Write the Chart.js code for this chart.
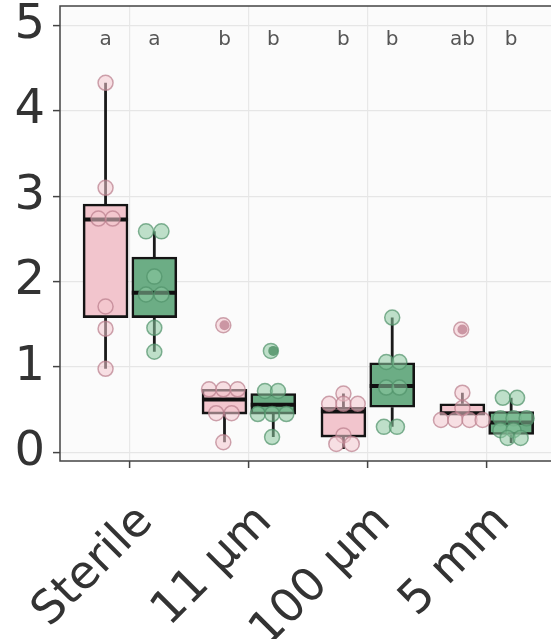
<!DOCTYPE html>
<html>
<head>
<meta charset="utf-8">
<script src="https://cdn.jsdelivr.net/npm/chart.js@4.4.1/dist/chart.umd.min.js"></script>
<style>
html,body{margin:0;padding:0;background:#fff}
</style>
</head>
<body>
<canvas id="grafico" width="551" height="639"></canvas>
<script>

/* DADOS */

const categorias = ["Sterile", "11 µm", "100 µm", "5 mm"]
const ticksY = [0, 0.5, 1, 1.5, 2, 2.5, 3, 3.5, 4, 4.5, 5]

const letrasRosa = ["a", "b", "b", "ab"]
const letrasVerde = ["a", "b", "b", "b"]

// caixas (q1, mediana, q3, bigodes)
const rosaQ1 = [1.58, 0.45, 0.18, 0.44]
const rosaMediana = [2.73, 0.62, 0.48, 0.46]
const rosaQ3 = [2.91, 0.74, 0.53, 0.57]
const rosaMin = [0.98, 0.12, 0.04, 0.44]
const rosaMax = [4.33, 0.74, 0.69, 0.70]
const rosaOutliers = [null, 1.49, null, 1.44]

const verdeQ1 = [1.58, 0.45, 0.53, 0.21]
const verdeMediana = [1.87, 0.56, 0.78, 0.35]
const verdeQ3 = [2.29, 0.69, 1.05, 0.48]
const verdeMin = [1.18, 0.18, 0.30, 0.11]
const verdeMax = [2.59, 0.69, 1.58, 0.64]
const verdeOutliers = [null, 1.19, null, null]

// pontos individuais e deslocamento (jitter)
const pontosRosa = [
    [4.33, 3.10, 2.74, 2.74, 1.71, 1.45, 0.98],
    [1.49, 0.74, 0.74, 0.74, 0.46, 0.46, 0.12],
    [0.69, 0.57, 0.57, 0.57, 0.20, 0.10, 0.10],
    [1.44, 0.70, 0.52, 0.38, 0.38, 0.38, 0.38]
]
const jitterRosa = [
    [0, 0, -0.06, 0.06, 0, 0, 0],
    [-0.01, -0.13, -0.01, 0.11, -0.07, 0.06, -0.01],
    [0, -0.12, 0, 0.12, 0, -0.06, 0.07],
    [-0.01, 0, 0, -0.18, -0.06, 0.06, 0.17]
]
const pontosVerde = [
    [2.59, 2.59, 2.06, 1.85, 1.85, 1.46, 1.18],
    [1.19, 0.72, 0.72, 0.45, 0.45, 0.45, 0.18],
    [1.58, 1.06, 1.06, 0.76, 0.76, 0.30, 0.30],
    [0.64, 0.64, 0.40, 0.40, 0.40, 0.26, 0.26, 0.17, 0.17]
]
const jitterVerde = [
    [-0.07, 0.06, 0, -0.07, 0.06, 0, 0],
    [-0.02, -0.07, 0.04, -0.13, -0.01, 0.11, -0.01],
    [0, -0.05, 0.06, -0.05, 0.06, -0.07, 0.04],
    [-0.07, 0.05, -0.09, 0.02, 0.13, -0.09, 0.02, -0.03, 0.08]
]

/* POSICOES */

const desloc = 0.205
const fonte = "'DejaVu Sans', 'Liberation Sans', sans-serif"

const xRosa = i => i - desloc
const xVerde = i => i + desloc

function caixas(q1, q3, xf){
    return categorias.map((c, i) => ({x: xf(i), y: [q1[i], q3[i]]}))
}

function medianas(med, xf){
    return categorias.map((c, i) => ({x: xf(i), y: med[i]}))
}

function bigodes(q1, q3, mn, mx, xf){
    let d = []
    categorias.forEach((c, i) => {
        d.push({x: xf(i), y: mx[i]}, {x: xf(i), y: q3[i]}, {x: xf(i), y: null})
        d.push({x: xf(i), y: q1[i]}, {x: xf(i), y: mn[i]}, {x: xf(i), y: null})
    })
    return d
}

function outliers(vals, xf){
    return vals.map((v, i) => v === null ? null : {x: xf(i), y: v}).filter(p => p)
}

function pontos(vals, jit, xf){
    let d = []
    vals.forEach((lista, i) => {
        lista.forEach((v, k) => d.push({x: xf(i) + jit[i][k], y: v}))
    })
    return d
}

/* PLUGINS */

const fundo = {
    id: "fundo",
    beforeDraw(chart){
        const {ctx, chartArea: a} = chart
        ctx.save()
        ctx.fillStyle = "#fff"
        ctx.fillRect(0, 0, chart.width, chart.height)
        ctx.fillStyle = "#fbfbfb"
        ctx.fillRect(a.left, a.top, a.right - a.left, a.bottom - a.top)
        ctx.restore()
    }
}

const moldura = {
    id: "moldura",
    afterDatasetsDraw(chart){
        const {ctx, chartArea: a, scales} = chart
        ctx.save()

        // letras de significancia
        ctx.fillStyle = "#555"
        ctx.font = "20px " + fonte
        ctx.textAlign = "center"
        ctx.textBaseline = "alphabetic"
        const yl = scales.y.getPixelForValue(4.77)
        categorias.forEach((c, i) => {
            ctx.fillText(letrasRosa[i], scales.x.getPixelForValue(xRosa(i)), yl)
            ctx.fillText(letrasVerde[i], scales.x.getPixelForValue(xVerde(i)), yl)
        })

        // painel continua alem da borda direita da imagem
        ctx.strokeStyle = "#444"
        ctx.lineWidth = 1.5
        ctx.strokeRect(a.left, a.top, a.right - a.left + 10, a.bottom - a.top)
        ctx.restore()
    }
}

/* GRAFICO */

new Chart(document.getElementById("grafico"), {

    type: "bar",

    data: {
        datasets: [
            {
                type: "line", data: bigodes(rosaQ1, rosaQ3, rosaMin, rosaMax, xRosa),
                borderColor: "#1a1a1a", borderWidth: 2.8, pointRadius: 0, spanGaps: false, order: 6
            },
            {
                type: "line", data: bigodes(verdeQ1, verdeQ3, verdeMin, verdeMax, xVerde),
                borderColor: "#1a1a1a", borderWidth: 2.8, pointRadius: 0, spanGaps: false, order: 6
            },
            {
                type: "bar", data: caixas(rosaQ1, rosaQ3, xRosa),
                backgroundColor: "#f2c5cd", borderColor: "#141414", borderWidth: 2.6,
                borderSkipped: false, barThickness: 45, grouped: false, order: 5
            },
            {
                type: "bar", data: caixas(verdeQ1, verdeQ3, xVerde),
                backgroundColor: "#6cad85", borderColor: "#141414", borderWidth: 2.6,
                borderSkipped: false, barThickness: 45, grouped: false, order: 5
            },
            {
                type: "scatter", data: medianas(rosaMediana, xRosa),
                pointStyle: "line", pointRadius: 22.5, borderColor: "#111", borderWidth: 4, order: 4
            },
            {
                type: "scatter", data: medianas(verdeMediana, xVerde),
                pointStyle: "line", pointRadius: 22.5, borderColor: "#111", borderWidth: 4, order: 4
            },
            {
                type: "scatter", data: outliers(rosaOutliers, xRosa),
                pointRadius: 5, backgroundColor: "#9a5a6e", borderWidth: 0, order: 3
            },
            {
                type: "scatter", data: outliers(verdeOutliers, xVerde),
                pointRadius: 5, backgroundColor: "#2f6b45", borderWidth: 0, order: 3
            },
            {
                type: "scatter", data: pontos(pontosRosa, jitterRosa, xRosa),
                pointRadius: 7.5, backgroundColor: "rgba(244,200,208,0.55)",
                borderColor: "rgba(185,125,140,0.7)", borderWidth: 1.5, order: 1
            },
            {
                type: "scatter", data: pontos(pontosVerde, jitterVerde, xVerde),
                pointRadius: 7.5, backgroundColor: "rgba(140,200,160,0.55)",
                borderColor: "rgba(80,145,105,0.7)", borderWidth: 1.5, order: 1
            }
        ]
    },

    options: {
        responsive: false,
        animation: false,
        events: [],
        layout: {autoPadding: false, padding: {top: 6, right: 0, left: 0, bottom: 0}},
        plugins: {legend: {display: false}, tooltip: {enabled: false}},
        scales: {
            x: {
                type: "linear",
                min: -0.588,
                max: 3.54,
                offset: false,
                afterBuildTicks: s => { s.ticks = categorias.map((c, i) => ({value: i})) },
                afterFit: s => {
                    s.height = 178
                    s.paddingLeft = 0
                    s.paddingRight = 0
                },
                grid: {offset: false, color: "#e8e8e8", lineWidth: 1.2, tickColor: "#444", tickLength: 7, tickWidth: 1.5},
                border: {display: false},
                ticks: {
                    autoSkip: false,
                    minRotation: 45,
                    maxRotation: 45,
                    padding: 27,
                    labelOffset: 16,
                    color: "#333",
                    font: {family: fonte, size: 46},
                    callback: v => categorias[v]
                }
            },
            y: {
                min: -0.1,
                max: 5.23,
                afterBuildTicks: s => { s.ticks = ticksY.map(v => ({value: v})) },
                afterFit: s => {
                    s.width = 60
                    s.paddingTop = 0
                    s.paddingBottom = 0
                },
                grid: {
                    color: c => Number.isInteger(c.tick.value) ? "#e6e6e6" : "#eeeeee",
                    lineWidth: c => Number.isInteger(c.tick.value) ? 1.2 : 0.8,
                    tickColor: c => Number.isInteger(c.tick.value) ? "#444" : "rgba(0,0,0,0)",
                    tickLength: 7,
                    tickWidth: 1.5
                },
                border: {display: false},
                ticks: {
                    padding: 8,
                    color: "#333",
                    font: {family: fonte, size: 48},
                    callback: v => Number.isInteger(v) ? v : ""
                }
            }
        }
    },

    plugins: [fundo, moldura]

})

</script>
</body>
</html>
